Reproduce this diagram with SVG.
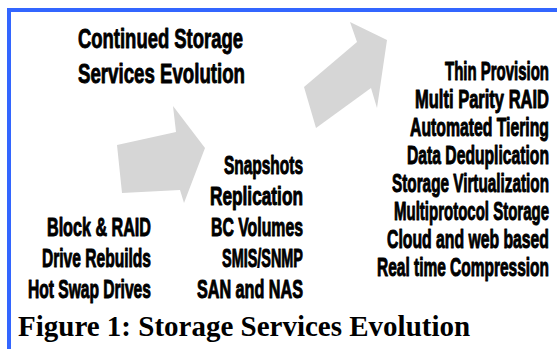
<svg xmlns="http://www.w3.org/2000/svg" width="557" height="349" viewBox="0 0 557 349">
  <style>
    .frame { fill: #3366ff; }
    .arrow { fill: #d6d6d6; }
    .lbl { font-family: "Liberation Sans", Arial, sans-serif; font-weight: bold; font-size: 26px; fill: #000; stroke: #000; stroke-width: 1; stroke-linejoin: round; text-anchor: end; }
    .ttl { font-family: "Liberation Sans", Arial, sans-serif; font-weight: bold; font-size: 28px; fill: #000; stroke: #000; stroke-width: 0.9; stroke-linejoin: round; }
    .cap { font-family: "Liberation Serif", "Times New Roman", serif; font-weight: bold; font-size: 29px; fill: #000; }
  </style>
  <rect width="557" height="349" fill="#ffffff"/>

  <!-- blue frame (top and left edges) -->
  <rect class="frame" x="7" y="8" width="550" height="4"/>
  <rect class="frame" x="7" y="8" width="4" height="341"/>

  <!-- block arrows between the stages -->
  <g id="connectors">
    <polygon class="arrow" points="117,145 176,132 173,106 205,148 184,203 180,190 122,193"/>
    <polygon class="arrow" points="350,22 357,42 304,87 316,128 371,88 377,108 387,40"/>
  </g>

  <!-- condensed lettering: groups squeezed horizontally -->
  <g id="title" transform="scale(0.68 1)">
    <text class="ttl" x="114.7" y="48" textLength="242.6" lengthAdjust="spacingAndGlyphs">Continued Storage</text>
    <text class="ttl" x="114.7" y="83" textLength="245.6" lengthAdjust="spacingAndGlyphs">Services Evolution</text>
  </g>

  <g id="stage1" transform="scale(0.62 1)">
    <text class="lbl" x="243.5" y="236" textLength="167.7" lengthAdjust="spacingAndGlyphs">Block &amp; RAID</text>
    <text class="lbl" x="243.5" y="267" textLength="175.8" lengthAdjust="spacingAndGlyphs">Drive Rebuilds</text>
    <text class="lbl" x="243.5" y="298" textLength="198.4" lengthAdjust="spacingAndGlyphs">Hot Swap Drives</text>
  </g>

  <g id="stage2" transform="scale(0.62 1)">
    <text class="lbl" x="488.7" y="174" textLength="127.4" lengthAdjust="spacingAndGlyphs">Snapshots</text>
    <text class="lbl" x="488.7" y="205" textLength="150" lengthAdjust="spacingAndGlyphs">Replication</text>
    <text class="lbl" x="488.7" y="236" textLength="148.4" lengthAdjust="spacingAndGlyphs">BC Volumes</text>
    <text class="lbl" x="488.7" y="267" textLength="130.6" lengthAdjust="spacingAndGlyphs">SMIS/SNMP</text>
    <text class="lbl" x="488.7" y="298" textLength="171" lengthAdjust="spacingAndGlyphs">SAN and NAS</text>
  </g>

  <g id="stage3" transform="scale(0.62 1)">
    <text class="lbl" x="885.5" y="80" textLength="167.7" lengthAdjust="spacingAndGlyphs">Thin Provision</text>
    <text class="lbl" x="885.5" y="108" textLength="216.1" lengthAdjust="spacingAndGlyphs">Multi Parity RAID</text>
    <text class="lbl" x="885.5" y="136" textLength="224.2" lengthAdjust="spacingAndGlyphs">Automated Tiering</text>
    <text class="lbl" x="885.5" y="164" textLength="229" lengthAdjust="spacingAndGlyphs">Data Deduplication</text>
    <text class="lbl" x="885.5" y="192" textLength="253.2" lengthAdjust="spacingAndGlyphs">Storage Virtualization</text>
    <text class="lbl" x="885.5" y="220" textLength="250" lengthAdjust="spacingAndGlyphs">Multiprotocol Storage</text>
    <text class="lbl" x="885.5" y="248" textLength="261.3" lengthAdjust="spacingAndGlyphs">Cloud and web based</text>
    <text class="lbl" x="885.5" y="276" textLength="277.4" lengthAdjust="spacingAndGlyphs">Real time Compression</text>
  </g>

  <g id="caption">
    <text class="cap" x="18" y="336">Figure 1: Storage Services Evolution</text>
  </g>
</svg>
